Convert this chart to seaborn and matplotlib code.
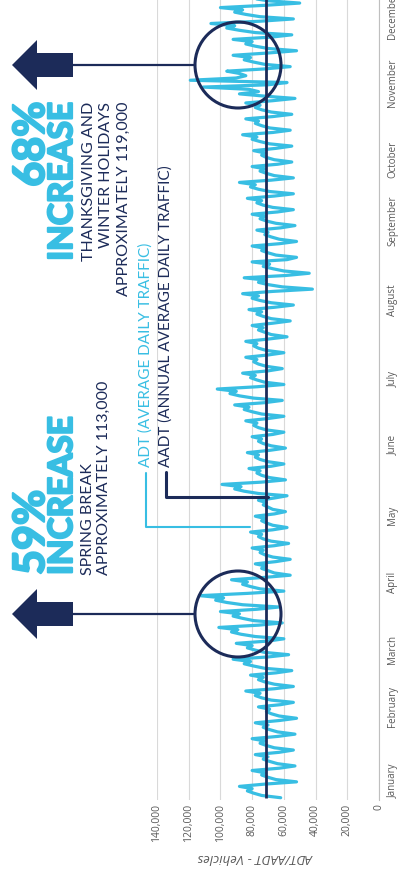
import matplotlib
matplotlib.use("Agg")
import matplotlib.pyplot as plt
import matplotlib.patheffects as pe
import seaborn as sns
import pandas as pd
from matplotlib.patches import Circle, Polygon
from matplotlib.lines import Line2D
from matplotlib.transforms import Affine2D

# ---- data -------------------------------------------------------------
months = ["January", "February", "March", "April", "May", "June", "July",
          "August", "September", "October", "November", "December"]

# daily average traffic (vehicles), one row per week starting 1 January
adt = [
    62000, 74000, 79000, 83000, 80000, 88000, 72000,
    52000, 65000, 70000, 74000, 72000, 80000, 63000,
    53000, 64000, 69000, 73000, 70000, 78000, 63000,
    54000, 66000, 71000, 75000, 72000, 80000, 64000,
    53000, 64000, 69000, 73000, 70000, 78000, 63000,
    52000, 63000, 68000, 71000, 69000, 76000, 62000,
    54000, 68000, 74000, 78000, 75000, 84000, 66000,
    54000, 66000, 72000, 76000, 73000, 81000, 65000,
    55000, 72000, 79000, 85000, 81000, 92000, 70000,
    57000, 72000, 78000, 83000, 80000, 90000, 70000,
    60000, 78000, 87000, 93000, 89000, 101000, 76000,
    61000, 79000, 86000, 92000, 88000, 100000, 77000,
    63000, 86000, 96000, 103000, 98000, 113000, 83000,
    60000, 75000, 81000, 86000, 83000, 93000, 73000,
    56000, 66000, 70000, 74000, 71000, 78000, 65000,
    56000, 67000, 72000, 75000, 73000, 80000, 66000,
    57000, 68000, 73000, 76000, 74000, 81000, 67000,
    58000, 67000, 71000, 74000, 72000, 78000, 66000,
    59000, 67000, 70000, 73000, 71000, 76000, 66000,
    58000, 76000, 85000, 91000, 87000, 99000, 74000,
    59000, 69000, 74000, 77000, 75000, 82000, 68000,
    60000, 70000, 75000, 78000, 76000, 83000, 69000,
    59000, 68000, 73000, 76000, 74000, 80000, 67000,
    60000, 71000, 76000, 79000, 77000, 84000, 70000,
    60000, 74000, 80000, 85000, 82000, 91000, 72000,
    61000, 79000, 88000, 94000, 90000, 102000, 77000,
    60000, 72000, 77000, 81000, 78000, 86000, 70000,
    61000, 71000, 76000, 79000, 77000, 84000, 70000,
    60000, 71000, 76000, 79000, 77000, 84000, 70000,
    58000, 68000, 72000, 76000, 73000, 80000, 67000,
    56000, 68000, 73000, 77000, 74000, 82000, 66000,
    54000, 68000, 75000, 80000, 76000, 86000, 67000,
    42000, 61000, 70000, 76000, 72000, 85000, 59000,
    44000, 60000, 67000, 73000, 69000, 80000, 58000,
    52000, 65000, 70000, 74000, 72000, 80000, 63000,
    52000, 63000, 68000, 72000, 70000, 77000, 62000,
    53000, 65000, 71000, 75000, 72000, 80000, 64000,
    54000, 67000, 73000, 77000, 74000, 83000, 66000,
    54000, 69000, 76000, 81000, 78000, 88000, 68000,
    54000, 66000, 71000, 75000, 72000, 80000, 64000,
    55000, 66000, 71000, 74000, 72000, 79000, 65000,
    55000, 69000, 75000, 80000, 77000, 86000, 67000,
    56000, 69000, 74000, 78000, 76000, 84000, 67000,
    55000, 68000, 74000, 78000, 75000, 84000, 67000,
    53000, 72000, 88000, 76000, 82000, 111000, 70000,
    58000, 119000, 90000, 84000, 88000, 96000, 72000,
    56000, 72000, 79000, 85000, 81000, 92000, 70000,
    52000, 70000, 78000, 84000, 80000, 92000, 68000,
    55000, 78000, 88000, 96000, 91000, 106000, 75000,
    54000, 75000, 84000, 91000, 86000, 100000, 72000,
    50000, 70000, 79000, 86000, 82000, 95000, 68000,
    52000, 69000, 77000, 82000, 79000, 90000, 67000,
    70000,
]
aadt = 71000
value_ticks = [0, 20000, 40000, 60000, 80000, 100000, 120000, 140000]

dates = pd.date_range("2017-01-01", periods=len(adt), freq="D")
month_starts = pd.date_range("2017-01-01", periods=12, freq="MS")
df = pd.DataFrame({"date": dates, "adt": adt})

spring_peak = max(adt[:120])
holiday_peak = max(adt[300:])
spring_pct = round((spring_peak / aadt - 1) * 100)
holiday_pct = round((holiday_peak / aadt - 1) * 100)

# ---- style ------------------------------------------------------------
sns.set_style("white")
plt.rcParams["font.family"] = ["Lato", "DejaVu Sans"]

LIGHT = "#38bee3"
NAVY = "#1c2b59"
GREY_TXT = "#595959"
GRID = "#d9d9d9"

W, H = 399, 873
fig = plt.figure(figsize=(W / 100, H / 100), dpi=100)
fig.patch.set_facecolor("white")
# pixel coordinates measured from the top-left corner of the figure
px = Affine2D().scale(1 / W, -1 / H).translate(0, 1) + fig.transFigure

# the date axis runs past the top edge of the figure
ax = fig.add_axes([157 / W, 73 / H, 222 / W, 831 / H])
ax.set_facecolor("white")

sns.lineplot(data=df, x="adt", y="date", orient="y", sort=False,
             estimator=None, color=LIGHT, linewidth=2.3, ax=ax, zorder=3)
ax.plot([aadt, aadt], [dates[0], dates[-1]], color=NAVY, linewidth=2.0,
        zorder=4, solid_capstyle="butt")

ax.set_xlim(value_ticks[-1], value_ticks[0])
ax.set_ylim(dates[0] - pd.Timedelta(days=1), dates[0] + pd.Timedelta(days=365))

ax.set_xticks(value_ticks)
ax.set_xticklabels([f"{v:,}" for v in value_ticks], rotation=90)
ax.set_yticks(month_starts)
ax.set_yticklabels(months, rotation=90, va="bottom")
ax.yaxis.tick_right()
ax.tick_params(axis="x", length=0, pad=3, labelsize=7.5, labelcolor=GREY_TXT)
ax.tick_params(axis="y", length=0, pad=6, labelsize=7, labelcolor=GREY_TXT)
for lab in ax.get_xticklabels() + ax.get_yticklabels():
    lab.set_fontfamily(["Open Sans", "DejaVu Sans"])

ax.grid(axis="x", color=GRID, linewidth=0.8)
ax.grid(axis="y", visible=False)
ax.set_axisbelow(True)
for side in ["top", "left", "bottom"]:
    ax.spines[side].set_visible(False)
ax.spines["right"].set_color("#bfbfbf")
ax.spines["right"].set_linewidth(0.8)
ax.set_xlabel("")
ax.set_ylabel("")

fig.text(256, 858, "ADT/AADT - Vehicles", transform=px, rotation=180,
         ha="center", va="center", fontsize=9.5, style="italic",
         color=GREY_TXT, family=["Open Sans", "DejaVu Sans"])

# ---- callouts -----------------------------------------------------------
def arrow(y):
    pts = [(12, y), (37, y - 25), (37, y - 12), (73, y - 12),
           (73, y + 12), (37, y + 12), (37, y + 25)]
    fig.add_artist(Polygon(pts, closed=True, transform=px, fc=NAVY, ec="none"))
    fig.add_artist(Line2D([73, 195], [y, y], transform=px, color=NAVY,
                          linewidth=1.6))

for cy in (614, 65):
    fig.add_artist(Circle((238, cy), 43, transform=px, fill=False,
                          ec=NAVY, linewidth=2.2, zorder=5))
    arrow(cy)

heavy = [pe.withStroke(linewidth=1.6, foreground=LIGHT)]

def vtext(x, y, s, size, color, ha, weight="normal", effects=None):
    fig.text(x, y, s, transform=px, rotation=90, rotation_mode="anchor",
             ha=ha, va="baseline", fontsize=size, color=color,
             fontweight=weight, path_effects=effects)

# spring break block
vtext(44, 575, f"{spring_pct}%", 31, LIGHT, "left", "bold", heavy)
vtext(72, 575, "INCREASE", 24, LIGHT, "left", "bold", heavy)
vtext(92, 575, "SPRING BREAK", 11.5, NAVY, "left")
vtext(108, 575, f"APPROXIMATELY {spring_peak:,}", 11.5, NAVY, "left")

# holiday block
vtext(44, 102, f"{holiday_pct}%", 31, LIGHT, "right", "bold", heavy)
vtext(72, 102, "INCREASE", 24, LIGHT, "right", "bold", heavy)
vtext(93, 102, "THANKSGIVING AND", 11.5, NAVY, "right")
vtext(110, 102, "WINTER HOLIDAYS", 11.5, NAVY, "right")
vtext(128, 102, f"APPROXIMATELY {holiday_peak:,}", 11.5, NAVY, "right")

# series legend with leader lines
vtext(150, 467, "ADT (AVERAGE DAILY TRAFFIC)", 11, LIGHT, "left")
vtext(170, 467, "AADT (ANNUAL AVERAGE DAILY TRAFFIC)", 11, NAVY, "left")
fig.add_artist(Line2D([146, 146, 250], [473, 527, 527], transform=px,
                      color=LIGHT, linewidth=1.5))
fig.add_artist(Line2D([166, 166, 268], [472, 497, 497], transform=px,
                      color=NAVY, linewidth=2.2))

fig.savefig("out.png", dpi=100)
